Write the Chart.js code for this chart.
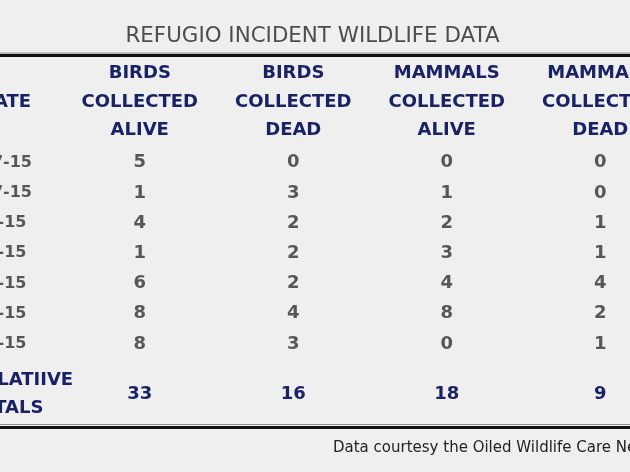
<!DOCTYPE html>
<html>
<head>
<meta charset="utf-8">
<script src="https://cdn.jsdelivr.net/npm/chart.js@4.4.0/dist/chart.umd.min.js"></script>
<style>
  html, body { margin: 0; padding: 0; background: #efefef; overflow: hidden; }
  /* the reference is a crop of a wider table, so the canvas runs past both edges */
  #wrap { position: absolute; left: -60px; top: 0; width: 760px; height: 472px; }
</style>
</head>
<body>
<div id="wrap"><canvas id="tableChart"></canvas></div>
<script>
const title = 'REFUGIO INCIDENT WILDLIFE DATA';
const footnote = 'Data courtesy the Oiled Wildlife Care Network';
const dateHeader = 'DATE';
const totalsLabel = ['CUMULATIIVE', 'TOTALS'];
const columns = [
    ['BIRDS', 'COLLECTED', 'ALIVE'],
    ['BIRDS', 'COLLECTED', 'DEAD'],
    ['MAMMALS', 'COLLECTED', 'ALIVE'],
    ['MAMMALS', 'COLLECTED', 'DEAD']
];
const dates = ['5-17-15', '5-27-15', '6-1-15', '6-4-15', '6-6-15', '6-8-15', '6-9-15'];
const birdsAlive = [5, 1, 4, 1, 6, 8, 8];
const birdsDead = [0, 3, 2, 2, 2, 4, 3];
const mammalsAlive = [0, 1, 2, 3, 4, 8, 0];
const mammalsDead = [0, 0, 1, 1, 4, 2, 1];
const totals = [33, 16, 18, 9];

const NAVY = '#1a2266';
const GRAY = '#575757';
const FONT = "'DejaVu Sans', sans-serif";

const series = [birdsAlive, birdsDead, mammalsAlive, mammalsDead];

// draws the cell text, the left column headings, the rules and the footnote
const tableText = {
    id: 'tableText',
    beforeDraw(chart) {
        const ctx = chart.ctx;
        ctx.save();
        ctx.fillStyle = '#efefef';
        ctx.fillRect(0, 0, chart.width, chart.height);
        ctx.restore();
    },
    afterDraw(chart) {
        const ctx = chart.ctx;
        const x = chart.scales.x;
        const x2 = chart.scales.x2;
        const y = chart.scales.y;
        ctx.save();
        ctx.textAlign = 'center';
        ctx.textBaseline = 'middle';

        // cell values
        ctx.font = 'bold 18px ' + FONT;
        ctx.fillStyle = GRAY;
        chart.data.datasets.forEach((ds, di) => {
            const meta = chart.getDatasetMeta(di);
            meta.data.forEach((pt, i) => {
                ctx.fillText(String(ds.values[i]), pt.x, pt.y);
            });
        });

        // left column headings
        const leftX = y.right - 58;
        const lh = 28.5;
        ctx.font = 'bold 18px ' + FONT;
        ctx.fillStyle = NAVY;
        ctx.fillText(dateHeader, leftX, x.bottom - 3 - lh * 1.5);
        const totY = x2.top + 25 + 10.8;
        ctx.fillText(totalsLabel[0], leftX, totY - 14);
        ctx.fillText(totalsLabel[1], leftX, totY + 14);

        // rules above the headings and below the totals
        ctx.strokeStyle = '#8a8a8a';
        ctx.lineWidth = 1;
        ctx.beginPath();
        ctx.moveTo(0, x.top - 1.5); ctx.lineTo(chart.width, x.top - 1.5);
        ctx.moveTo(0, x2.bottom - 2.5); ctx.lineTo(chart.width, x2.bottom - 2.5);
        ctx.stroke();
        ctx.strokeStyle = '#111111';
        ctx.lineWidth = 3;
        ctx.beginPath();
        ctx.moveTo(0, x.top + 1); ctx.lineTo(chart.width, x.top + 1);
        ctx.moveTo(0, x2.bottom + 0.5); ctx.lineTo(chart.width, x2.bottom + 0.5);
        ctx.stroke();

        // footnote
        ctx.font = '15px ' + FONT;
        ctx.fillStyle = '#222222';
        ctx.textAlign = 'left';
        ctx.fillText(footnote, chart.chartArea.right - 344, x2.bottom + 21);
        ctx.restore();
    }
};

const ctx = document.getElementById('tableChart').getContext('2d');
const tableChart = new Chart(ctx, {
    type: 'line',
    data: {
        xLabels: columns,
        yLabels: dates,
        datasets: series.map((vals, col) => ({
            label: columns[col].join(' '),
            values: vals,
            data: dates.map((d) => ({ x: columns[col], y: d })),
            showLine: false,
            pointRadius: 0,
            pointHoverRadius: 0
        }))
    },
    options: {
        responsive: true,
        maintainAspectRatio: false,
        animation: false,
        events: [],
        layout: { padding: { left: 8, right: 23, top: 0, bottom: 45 } },
        plugins: {
            legend: { display: false },
            tooltip: { enabled: false },
            title: {
                display: true,
                text: title,
                color: '#4d4d4d',
                font: { family: FONT, size: 21.4, weight: 'normal', lineHeight: 1.15 },
                padding: { top: 24, bottom: 6 }
            }
        },
        scales: {
            x: {
                type: 'category',
                position: 'top',
                offset: true,
                grid: { display: false, drawTicks: false },
                border: { display: false },
                ticks: {
                    color: NAVY,
                    padding: 3,
                    maxRotation: 0,
                    autoSkip: false,
                    font: { family: FONT, size: 18, weight: 'bold', lineHeight: 28.5 / 18 }
                },
                afterFit(scale) { scale.height = 93; }
            },
            x2: {
                type: 'category',
                position: 'bottom',
                labels: totals.map(String),
                offset: true,
                grid: { display: false, drawTicks: false },
                border: { display: false },
                ticks: {
                    color: NAVY,
                    padding: 25,
                    maxRotation: 0,
                    autoSkip: false,
                    font: { family: FONT, size: 18, weight: 'bold', lineHeight: 1.2 }
                },
                afterFit(scale) { scale.height = 68; }
            },
            y: {
                type: 'category',
                offset: true,
                grid: { display: false, drawTicks: false },
                border: { display: false },
                ticks: {
                    color: GRAY,
                    padding: 31,
                    crossAlign: 'center',
                    autoSkip: false,
                    font: { family: FONT, size: 16, weight: 'bold' }
                },
                afterFit(scale) { scale.width = 115; }
            }
        }
    },
    plugins: [tableText]
});
</script>
</body>
</html>
